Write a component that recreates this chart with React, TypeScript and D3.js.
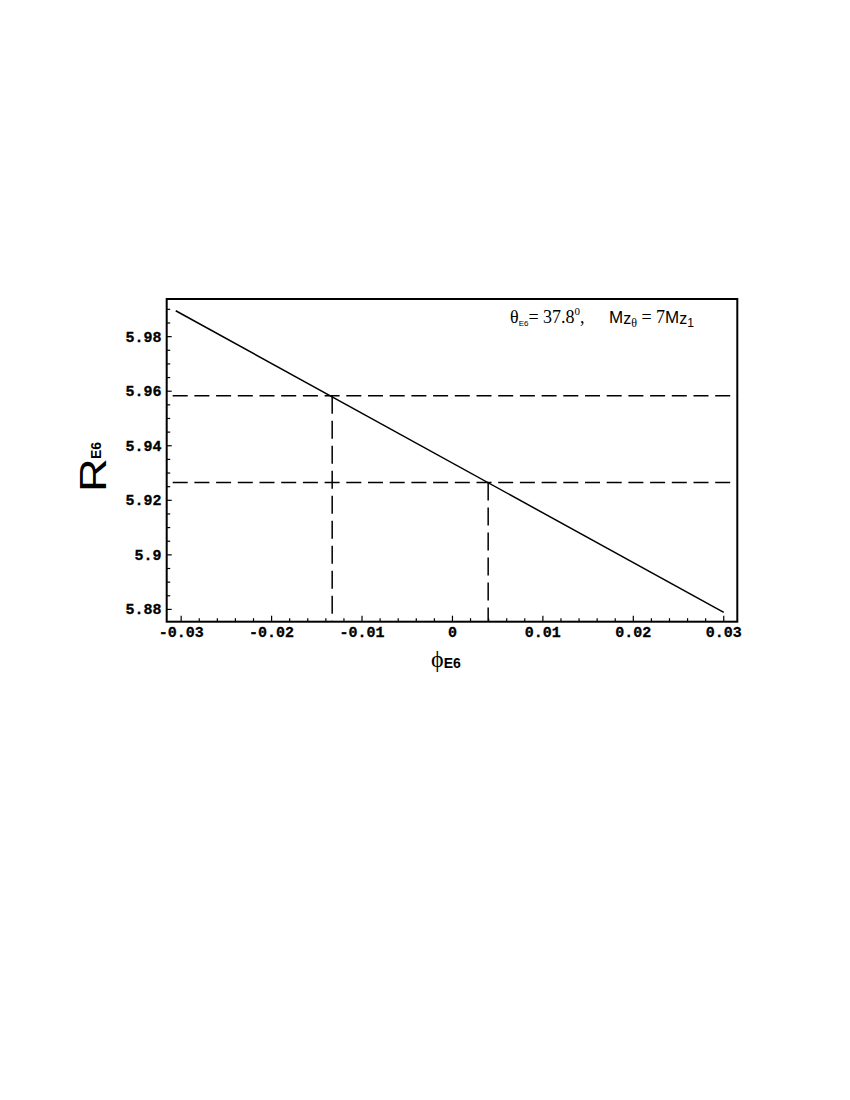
import React from "react";
import * as d3 from "d3";

const xDomain: [number, number] = [-0.0316, 0.0315];
const yDomain: [number, number] = [5.8755, 5.9938];
const xTicks = [-0.03, -0.02, -0.01, 0, 0.01, 0.02, 0.03];
const xTickLabels = ["-0.03", "-0.02", "-0.01", "0", "0.01", "0.02", "0.03"];
const yTicks = [5.88, 5.9, 5.92, 5.94, 5.96, 5.98];
const yTickLabels = ["5.88", "5.9", "5.92", "5.94", "5.96", "5.98"];
const linePhi = [-0.0306, 0.03];
const lineR = [5.9895, 5.8789];
const cutPhi = [-0.0133, 0.00395];
const cutR = [5.9583, 5.9265];

export default function App() {
  const L = 166.7, R = 737.3, T = 299, B = 621.7;
  const x = d3.scaleLinear().domain(xDomain).range([L, R]);
  const y = d3.scaleLinear().domain(yDomain).range([B, T]);
  const xMinor = d3.range(-0.03, 0.0301, 0.002).filter((v) => !xTicks.some((t) => Math.abs(t - v) < 1e-9));
  const yMinor = d3.range(5.88, 5.9931, 0.005).filter((v) => !yTicks.some((t) => Math.abs(t - v) < 1e-9));
  const line = d3.line<number>().x((_, i) => x(linePhi[i])).y((d) => y(d));
  const mono = "'Liberation Mono', 'DejaVu Sans Mono', monospace";
  const serif = "'Liberation Serif', 'DejaVu Serif', serif";
  const sans = "'Liberation Sans', Arial, sans-serif";
  return (
    <svg width={850} height={1100} style={{ position: "absolute", left: 0, top: 0, background: "#fff" }}>
      <rect x={0} y={0} width={850} height={1100} fill="#fff" />
      {cutR.map((r, i) => (
        <g key={"h" + i}>
          <line x1={x(xDomain[0])} x2={R} y1={y(r)} y2={y(r)} stroke="#000" strokeWidth={1.5} strokeDasharray="15,6.7" strokeDashoffset={-6} />
          <line x1={x(cutPhi[i])} x2={x(cutPhi[i])} y1={y(r)} y2={B} stroke="#000" strokeWidth={1.5} strokeDasharray="18,7" />
        </g>
      ))}
      <path d={line(lineR) || ""} fill="none" stroke="#000" strokeWidth={1.5} />
      <rect x={L} y={T} width={R - L} height={B - T} fill="none" stroke="#000" strokeWidth={2} />
      {xTicks.map((t, i) => (
        <g key={"xt" + i}>
          <line x1={x(t)} x2={x(t)} y1={B} y2={B - 6} stroke="#000" strokeWidth={1.2} />
          <text x={x(t)} y={637} textAnchor="middle" fontFamily={mono} fontWeight="bold" fontSize={15} stroke="#000" strokeWidth={0.3}>{xTickLabels[i]}</text>
        </g>
      ))}
      {xMinor.map((t, i) => (
        <line key={"xm" + i} x1={x(t)} x2={x(t)} y1={B} y2={B - 3.5} stroke="#000" strokeWidth={1.2} />
      ))}
      {yTicks.map((t, i) => (
        <g key={"yt" + i}>
          <line x1={L} x2={L + 5} y1={y(t)} y2={y(t)} stroke="#000" strokeWidth={1.2} />
          <text x={161.5} y={y(t) + 5} textAnchor="end" fontFamily={mono} fontWeight="bold" fontSize={15} stroke="#000" strokeWidth={0.3}>{yTickLabels[i]}</text>
        </g>
      ))}
      {yMinor.map((t, i) => (
        <line key={"ym" + i} x1={L} x2={L + 3.5} y1={y(t)} y2={y(t)} stroke="#000" strokeWidth={1.2} />
      ))}
      <text x={510} y={323} fontSize={18} fontFamily={serif}>
        <tspan>θ</tspan>
        <tspan fontFamily={sans} fontSize={8} dy={3}>E6</tspan>
        <tspan dy={-3}>= 37.8</tspan>
        <tspan fontSize={11} dy={-8}>0</tspan>
        <tspan dy={8}>,</tspan>
      </text>
      <text x={609} y={323} fontSize={18} fontFamily={serif}>
        <tspan fontFamily={sans} fontSize={17}>M</tspan>
        <tspan fontFamily={sans} fontSize={16} dy={1}>z</tspan>
        <tspan fontSize={12} dy={3}>θ</tspan>
        <tspan dy={-4}> = 7</tspan>
        <tspan fontFamily={sans} fontSize={17}>M</tspan>
        <tspan fontFamily={sans} fontSize={16} dy={1}>z</tspan>
        <tspan fontFamily={sans} fontSize={12} dy={3}>1</tspan>
      </text>
      <text transform="translate(106,492) rotate(-90) scale(1.3,1)" fontFamily={sans} fontSize={36}>R</text>
      <text transform="translate(101,459) rotate(-90)" fontFamily={sans} fontSize={14} fontWeight="bold">E6</text>
      <text x={431} y={667} fontFamily={serif} fontSize={24}>
        <tspan>ϕ</tspan>
        <tspan fontFamily={sans} fontSize={14} fontWeight="bold" dy={1}>E6</tspan>
      </text>
    </svg>
  );
}
